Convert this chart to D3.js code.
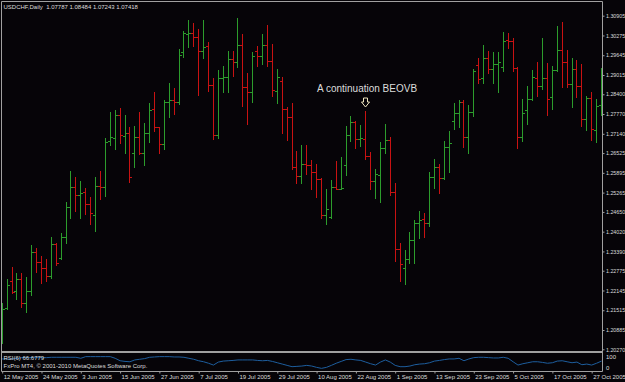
<!DOCTYPE html>
<html>
<head>
<meta charset="utf-8">
<script src="https://cdn.jsdelivr.net/npm/d3@7"></script>
<style>
  html, body { margin: 0; padding: 0; background: #060408; }
  svg { display: block; }
  text { font-family: "Liberation Sans", Arial, sans-serif; fill: #dcdcdc; }
</style>
</head>
<body>
<svg id="chart"></svg>
<script>
// USDCHF daily, 12 May 2005 .. 31 Oct 2005
const open = [1.2073,1.2158,1.2245,1.2214,1.2250,1.2174,1.2214,1.2336,1.2304,1.2285,
  1.2261,1.2362,1.2319,1.2386,1.2482,1.2543,1.2519,1.2529,1.2490,1.2454,
  1.2547,1.2543,1.2692,1.2700,1.2774,1.2707,1.2716,1.2652,1.2705,1.2654,
  1.2717,1.2792,1.2735,1.2681,1.2816,1.2822,1.2815,1.2974,1.3032,1.3036,
  1.3022,1.2978,1.2994,1.2869,1.2709,1.2893,1.2896,1.2951,1.2942,1.2997,
  1.2864,1.2848,1.2978,1.2962,1.2997,1.2947,1.2850,1.2883,1.2792,1.2769,
  1.2609,1.2579,1.2617,1.2614,1.2593,1.2569,1.2455,1.2450,1.2545,1.2537,
  1.2614,1.2710,1.2753,1.2697,1.2697,1.2643,1.2564,1.2583,1.2668,1.2694,
  1.2527,1.2346,1.2285,1.2314,1.2375,1.2429,1.2441,1.2429,1.2575,1.2609,
  1.2572,1.2671,1.2755,1.2779,1.2816,1.2703,1.2783,1.2933,1.2891,1.2955,
  1.2920,1.2936,1.2928,1.3013,1.3011,1.2923,1.2703,1.2790,1.2826,1.2891,
  1.2867,1.2891,1.2830,1.2917,1.2981,1.2942,1.2873,1.2920,1.2866,1.2760,
  1.2827,1.2726,1.2806];
const high = [1.2174,1.2251,1.2288,1.2269,1.2269,1.2258,1.2358,1.2349,1.2324,1.2315,
  1.2384,1.2365,1.2397,1.2496,1.2596,1.2577,1.2563,1.2540,1.2513,1.2577,
  1.2595,1.2700,1.2784,1.2790,1.2795,1.2773,1.2737,1.2739,1.2783,1.2747,
  1.2811,1.2847,1.2737,1.2822,1.2875,1.2859,1.2983,1.3042,1.3077,1.3068,
  1.3048,1.3077,1.3006,1.2891,1.2917,1.2930,1.2978,1.2978,1.3082,1.3032,
  1.2907,1.2976,1.2994,1.3032,1.3061,1.3000,1.2920,1.2896,1.2799,1.2813,
  1.2659,1.2678,1.2678,1.2630,1.2618,1.2572,1.2538,1.2567,1.2628,1.2639,
  1.2740,1.2771,1.2754,1.2742,1.2787,1.2657,1.2601,1.2689,1.2745,1.2705,
  1.2558,1.2367,1.2344,1.2402,1.2439,1.2468,1.2462,1.2593,1.2634,1.2618,
  1.2691,1.2723,1.2811,1.2822,1.2822,1.2806,1.2920,1.2957,1.2997,1.2979,
  1.2974,1.2974,1.3038,1.3036,1.3018,1.2928,1.2825,1.2867,1.2917,1.2944,
  1.3018,1.2939,1.2930,1.3058,1.3071,1.2981,1.2957,1.2949,1.2935,1.2834,
  1.2848,1.2825,1.2923];
const low = [1.2046,1.2154,1.2207,1.2186,1.2161,1.2147,1.2200,1.2274,1.2239,1.2245,
  1.2253,1.2296,1.2314,1.2367,1.2446,1.2469,1.2445,1.2458,1.2426,1.2405,
  1.2506,1.2515,1.2678,1.2664,1.2684,1.2652,1.2561,1.2609,1.2649,1.2614,
  1.2689,1.2723,1.2654,1.2666,1.2767,1.2776,1.2809,1.2958,1.2992,1.2994,
  1.2838,1.2957,1.2851,1.2697,1.2701,1.2848,1.2846,1.2899,1.2928,1.2803,
  1.2744,1.2816,1.2930,1.2936,1.2930,1.2834,1.2813,1.2716,1.2694,1.2601,
  1.2558,1.2558,1.2586,1.2538,1.2513,1.2446,1.2426,1.2445,1.2537,1.2537,
  1.2583,1.2692,1.2668,1.2675,1.2634,1.2537,1.2510,1.2497,1.2652,1.2518,
  1.2309,1.2246,1.2235,1.2302,1.2302,1.2381,1.2386,1.2420,1.2540,1.2524,
  1.2569,1.2593,1.2728,1.2737,1.2671,1.2652,1.2771,1.2875,1.2877,1.2907,
  1.2877,1.2848,1.2915,1.2987,1.2915,1.2668,1.2692,1.2744,1.2822,1.2834,
  1.2856,1.2774,1.2792,1.2915,1.2864,1.2864,1.2798,1.2830,1.2739,1.2726,
  1.2694,1.2689,1.2774];
const close = [1.2154,1.2231,1.2210,1.2250,1.2176,1.2214,1.2336,1.2306,1.2285,1.2261,
  1.2362,1.2301,1.2386,1.2480,1.2543,1.2519,1.2524,1.2490,1.2460,1.2547,
  1.2543,1.2687,1.2703,1.2774,1.2710,1.2716,1.2577,1.2705,1.2654,1.2716,
  1.2790,1.2737,1.2681,1.2816,1.2822,1.2815,1.2965,1.3034,1.3036,1.3022,
  1.2978,1.2990,1.2869,1.2709,1.2893,1.2896,1.2951,1.2942,1.2997,1.2862,
  1.2846,1.2962,1.2962,1.2997,1.2947,1.2854,1.2894,1.2792,1.2769,1.2609,
  1.2579,1.2617,1.2614,1.2593,1.2569,1.2455,1.2473,1.2545,1.2538,1.2541,
  1.2710,1.2753,1.2697,1.2700,1.2643,1.2564,1.2586,1.2668,1.2694,1.2527,
  1.2346,1.2299,1.2314,1.2375,1.2429,1.2439,1.2429,1.2575,1.2609,1.2572,
  1.2671,1.2685,1.2779,1.2816,1.2705,1.2783,1.2915,1.2888,1.2955,1.2920,
  1.2936,1.2942,1.3011,1.3011,1.2923,1.2703,1.2779,1.2826,1.2894,1.2867,
  1.2891,1.2825,1.2917,1.2981,1.2942,1.2873,1.2920,1.2866,1.2760,1.2827,
  1.2728,1.2803,1.2901];
// RSI(6) sub window
const rsi = [67,67,67,70,75,75,75,75,75,75,77,77,77,77,77,77,71,81,81,81,
  81,81,81,71,56,52,50,61,65,69,77,79,81,81,81,79,79,77,71,65,
  56,50,41,30,48,54,56,58,61,61,61,61,58,56,58,52,44,36,28,20,
  22,24,28,24,16,10,16,28,41,52,63,65,61,58,48,38,30,48,61,48,
  28,20,20,24,32,36,38,44,54,58,63,67,67,71,56,67,75,77,77,75,
  73,73,77,71,50,30,38,44,50,50,46,41,44,54,56,50,44,48,32,36,
  30,41,54];

const priceTicks = ["1.30905","1.30275","1.29645","1.29015","1.28400","1.27770","1.27140",
  "1.26525","1.25895","1.25265","1.24650","1.24020","1.23390","1.22775","1.22145",
  "1.21515","1.20885","1.20270"];
const dateTicks = ["12 May 2005","24 May 2005","3 Jun 2005","15 Jun 2005","27 Jun 2005",
  "7 Jul 2005","19 Jul 2005","29 Jul 2005","10 Aug 2005","22 Aug 2005","1 Sep 2005",
  "13 Sep 2005","23 Sep 2005","5 Oct 2005","17 Oct 2005","27 Oct 2005"];

// trading days (weekdays) of the period
const dates = d3.utcDay.range(new Date(Date.UTC(2005, 4, 12)), new Date(Date.UTC(2005, 10, 1)))
  .filter(d => d.getUTCDay() !== 0 && d.getUTCDay() !== 6);
const fmtDate = d3.utcFormat("%-d %b %Y");

const W = 625, H = 382;
const paneRight = 602.5, mainBottom = 351, subTop = 353, subBottom = 371.5;

const svg = d3.select("#chart").attr("width", W).attr("height", H);
svg.append("rect").attr("width", W).attr("height", H).attr("fill", "#060408");

const idx = d3.range(dates.length);
const x = d3.scalePoint().domain(idx).range([2.2, 601.5]);
const y = d3.scaleLinear().domain([1.20270, 1.30905]).range([349.3, 15.7]);
const yr = d3.scaleLinear().domain([0, 100]).range([370, 353.5]);

const px = i => Math.floor(x(i)) + 0.5;
const py = v => Math.round(y(v)) + 0.5;

// clip areas
const defs = svg.append("defs");
defs.append("clipPath").attr("id", "main").append("rect")
  .attr("x", 2).attr("y", 2).attr("width", paneRight - 2).attr("height", mainBottom - 2);
defs.append("clipPath").attr("id", "sub").append("rect")
  .attr("x", 2).attr("y", subTop).attr("width", paneRight - 2).attr("height", subBottom - subTop);

// OHLC bars
const bars = svg.append("g").attr("clip-path", "url(#main)")
  .selectAll("g").data(idx).enter().append("g")
  .attr("stroke", i => close[i] >= open[i] ? "#2c9c2c" : "#c81212")
  .attr("stroke-width", 1);
bars.append("line")
  .attr("x1", px).attr("x2", px)
  .attr("y1", i => Math.round(y(high[i]))).attr("y2", i => Math.round(y(low[i])) + 1);
bars.append("line")
  .attr("x1", i => px(i) - 2.5).attr("x2", px)
  .attr("y1", i => py(open[i])).attr("y2", i => py(open[i]));
bars.append("line")
  .attr("x1", px).attr("x2", i => px(i) + 2.5)
  .attr("y1", i => py(close[i])).attr("y2", i => py(close[i]));

// RSI line
svg.append("path").datum(idx)
  .attr("clip-path", "url(#sub)")
  .attr("fill", "none").attr("stroke", "#1e5e9e").attr("stroke-width", 1)
  .attr("d", d3.line().x(i => x(i)).y(i => yr(rsi[i])));

// frame
const frame = svg.append("g").attr("stroke", "#a0a0a0").attr("stroke-width", 1).attr("fill", "none");
frame.append("path").attr("d",
  `M1.5,1.5H${paneRight}V${subBottom}H1.5Z M1.5,${mainBottom + 0.5}H${paneRight} M1.5,${mainBottom + 1.5}H${paneRight}`);

// price axis
const yAxis = svg.append("g").attr("transform", `translate(${paneRight},0)`)
  .call(d3.axisRight(y).tickValues(priceTicks.map(Number)).tickFormat(d3.format(".5f"))
    .tickSize(2).tickPadding(1.5));
// date axis
const tickIdx = idx.filter(i => dateTicks.includes(fmtDate(dates[i])));
const xAxis = svg.append("g").attr("transform", `translate(0,${subBottom})`)
  .call(d3.axisBottom(x).tickValues(tickIdx).tickFormat(i => fmtDate(dates[i]))
    .tickSize(2).tickPadding(1));
xAxis.selectAll("text").attr("text-anchor", "start").attr("x", 1);
[yAxis, xAxis].forEach(a => {
  a.select(".domain").remove();
  a.selectAll("line").attr("stroke", "#a0a0a0");
  a.selectAll("text").attr("fill", "#dcdcdc").attr("font-size", 6)
    .attr("font-family", "'Liberation Sans', Arial, sans-serif");
});
// keep the price labels inside the window
yAxis.selectAll("text").attr("font-size", 5.3);

// RSI scale labels
svg.append("text").attr("x", 606).attr("y", 359).attr("font-size", 6).text("100");
svg.append("text").attr("x", 606).attr("y", 369.5).attr("font-size", 6).text("0");

// captions
svg.append("text").attr("x", 3.5).attr("y", 9).attr("font-size", 6)
  .style("white-space", "pre").text("USDCHF,Daily  1.07787 1.08484 1.07243 1.07418");
svg.append("text").attr("x", 3.5).attr("y", 359.5).attr("font-size", 6).text("RSI(6) 66.6779");
svg.append("text").attr("x", 3.5).attr("y", 368).attr("font-size", 6)
  .text("FxPro MT4, \u00a9 2001-2010 MetaQuotes Software Corp.");

// annotation over the bar it points at
const noteBar = 74;
const ax = px(noteBar), ayTop = Math.round(y(high[noteBar])) - 13;
svg.append("text").attr("x", ax - 48.5).attr("y", ayTop - 6).attr("font-size", 10)
  .attr("fill", "#ffffff").text("A continuation BEOVB");
svg.append("path")
  .attr("d", `M${ax - 2},${ayTop}H${ax + 2}V${ayTop + 4}H${ax + 4}L${ax},${ayTop + 9}L${ax - 4},${ayTop + 4}H${ax - 2}Z`)
  .attr("fill", "none").attr("stroke", "#efe6c0").attr("stroke-width", 1);
</script>
</body>
</html>
